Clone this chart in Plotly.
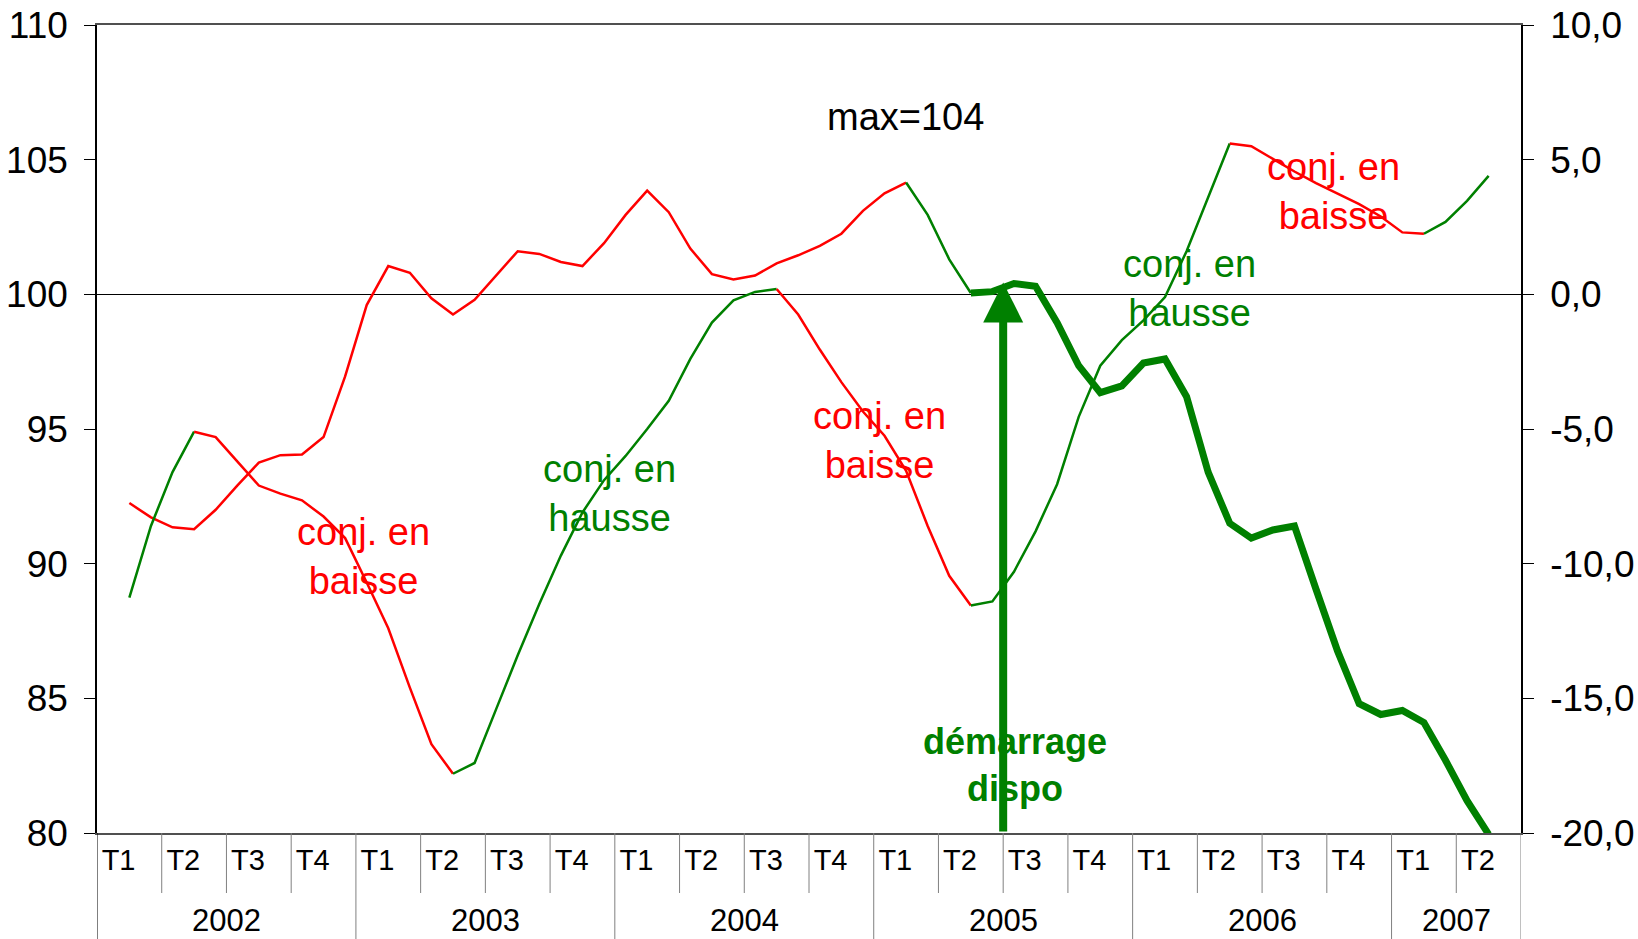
import plotly.graph_objects as go

# ---------------- data (monthly, Feb 2002 .. May 2007) ----------------
month_index = list(range(1, 65))  # 1 = Feb 2002 (month 0 = Jan 2002)

# index (left axis)
indice = [92.25, 91.72, 91.35, 91.28, 92.0, 92.9, 93.75, 94.03, 94.05, 94.7,
          96.95, 99.6, 101.05, 100.8, 99.85, 99.25, 99.8, 100.7, 101.6, 101.5,
          101.2, 101.05, 101.9, 102.95, 103.85, 103.05, 101.7, 100.75, 100.55, 100.7,
          101.15, 101.45, 101.8, 102.25, 103.1, 103.75, 104.15, 102.95, 101.3, 100.05,
          100.1, 100.4, 100.3, 98.95, 97.35, 96.35, 96.6, 97.45, 97.6, 96.2,
          93.4, 91.5, 90.95, 91.25, 91.4, 89.05, 86.75, 84.8, 84.4, 84.55,
          84.1, 82.7, 81.2, 79.95]

# variation (right axis)
variation = [-11.26, -8.6, -6.6, -5.1, -5.3, -6.2, -7.1, -7.4, -7.65, -8.25,
             -9.05, -10.7, -12.4, -14.6, -16.7, -17.8, -17.4, -15.4, -13.4, -11.5,
             -9.7, -8.1, -6.9, -6.0, -5.0, -3.95, -2.4, -1.05, -0.22, 0.09,
             0.2, -0.75, -2.05, -3.26, -4.35, -5.25, -6.55, -8.6, -10.45, -11.55,
             -11.4, -10.3, -8.8, -7.05, -4.55, -2.65, -1.7, -0.97, -0.1, 1.6,
             3.63, 5.6, 5.5, 5.03, 4.56, 4.13, 3.74, 3.35, 2.89, 2.3,
             2.25, 2.69, 3.47, 4.4]

# conjuncture phases (first month, last month, phase)
phases_variation = [(1, 4, "hausse"), (4, 16, "baisse"), (16, 31, "hausse"),
                    (31, 40, "baisse"), (40, 52, "hausse"), (52, 61, "baisse"),
                    (61, 64, "hausse")]
phases_indice = [(1, 37, "baisse", "avant"), (37, 40, "hausse", "avant"),
                 (40, 64, "hausse", "dispo")]

quarters = ["T1", "T2", "T3", "T4"] * 5 + ["T1", "T2"]
years = ["2002", "2003", "2004", "2005", "2006", "2007"]
left_ticks = [80, 85, 90, 95, 100, 105, 110]
right_ticks = [-20, -15, -10, -5, 0, 5, 10]

# ---------------- styles ----------------
RED = "#FF0000"
GREEN = "#008000"
phase_color = {"hausse": GREEN, "baisse": RED}
FONT = "Liberation Sans, Arial, sans-serif"

fig = go.Figure()
xpos = [m + 0.5 for m in month_index]

for a, b, ph in phases_variation:
    fig.add_trace(go.Scatter(
        x=xpos[a - 1:b], y=variation[a - 1:b], mode="lines", yaxis="y2",
        line=dict(color=phase_color[ph], width=2.5), showlegend=False,
        hoverinfo="skip"))

for a, b, ph, st in phases_indice:
    fig.add_trace(go.Scatter(
        x=xpos[a - 1:b], y=indice[a - 1:b], mode="lines", yaxis="y",
        line=dict(color=phase_color[ph], width=7 if st == "dispo" else 2.5),
        showlegend=False, hoverinfo="skip"))

# quarter / year separators below the axis
shapes = []
nq = len(quarters)
for k in range(nq + 1):
    is_year = (k % 4 == 0) or (k == nq)
    shapes.append(dict(
        type="line", xref="x", yref="paper", x0=3 * k, x1=3 * k,
        ysizemode="pixel", yanchor=0, y0=0, y1=-106 if is_year else -60,
        line=dict(color="black" if k == 0 else "#808080", width=1)))

annotations = []
# year labels
for j, yr in enumerate(years):
    start = 12 * j
    end = min(12 * (j + 1), 3 * nq)
    annotations.append(dict(
        x=(start + end) / 2, y=0, xref="x", yref="paper", text=yr,
        showarrow=False, yanchor="middle", yshift=-87,
        font=dict(family=FONT, size=31, color="black")))

def label(text, x, y, color, size=38, bold=False):
    if bold:
        text = "<b>" + text + "</b>"
    annotations.append(dict(x=x, y=y, xref="x", yref="y", text=text,
                            showarrow=False, align="center",
                            font=dict(family=FONT, size=size, color=color)))

label("max=104", 37.47, 106.6, "black")
label("conj. en<br>baisse", 12.36, 90.25, RED)
label("conj. en<br>hausse", 23.76, 92.62, GREEN)
label("conj. en<br>baisse", 36.25, 94.56, RED)
label("conj. en<br>hausse", 50.63, 100.23, GREEN)
label("conj. en<br>baisse", 57.31, 103.81, RED)
label("démarrage<br>dispo", 42.53, 82.53, GREEN, size=36, bold=True)

# arrow "démarrage dispo"
annotations.append(dict(
    x=42, y=100.44, ax=42, ay=80, xref="x", yref="y", axref="x", ayref="y",
    text="", showarrow=True, arrowhead=2, arrowsize=1, arrowwidth=8,
    arrowcolor=GREEN))

fig.update_layout(
    width=1638, height=939,
    margin=dict(l=97, r=117, t=25, b=106, autoexpand=False),
    paper_bgcolor="white", plot_bgcolor="white",
    font=dict(family=FONT, color="black"),
    showlegend=False,
    xaxis=dict(
        range=[0, 66], showgrid=False, zeroline=False, automargin=False,
        showline=True, linecolor="#505050", linewidth=1.5, mirror=True,
        tickmode="array", tickvals=[3 * q + 1.0 for q in range(nq)],
        ticktext=quarters, ticks="",
        tickfont=dict(family=FONT, size=29, color="black"),
        fixedrange=True),
    yaxis=dict(
        range=[80, 110], tickmode="array", tickvals=left_ticks,
        ticktext=[str(v) for v in left_ticks], automargin=False,
        showgrid=False, zeroline=False, showline=True, linecolor="black",
        linewidth=1.5, ticks="outside", ticklen=11, tickcolor="black",
        ticklabelstandoff=9,
        tickfont=dict(family=FONT, size=37, color="black")),
    yaxis2=dict(
        range=[-20, 10], overlaying="y", side="right", tickmode="array",
        tickvals=right_ticks, automargin=False,
        ticktext=[f"{v:.1f}".replace(".", ",") for v in right_ticks],
        showgrid=False, zeroline=True, zerolinecolor="black", zerolinewidth=1,
        showline=True, linecolor="black", linewidth=1.5,
        ticks="outside", ticklen=11, tickcolor="black",
        ticklabelstandoff=9,
        tickfont=dict(family=FONT, size=37, color="black")),
    shapes=shapes,
    annotations=annotations,
)

fig.write_html(
    "out.html",
    config={"displayModeBar": False},
    post_script="document.body.style.margin='0';document.body.style.overflow='hidden';")
